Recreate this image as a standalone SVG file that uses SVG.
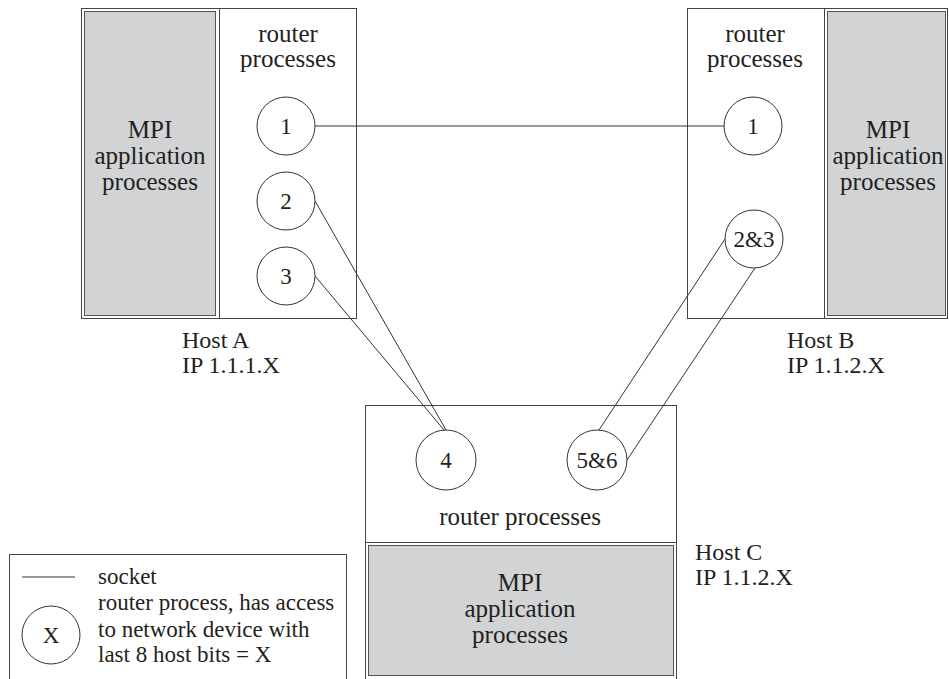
<svg xmlns="http://www.w3.org/2000/svg" width="949" height="679" viewBox="0 0 949 679">
  <style>
    text { font-family: "Liberation Serif", "Times New Roman", serif; fill: #231f20; }
    .lbl { font-size: 25px; text-anchor: middle; }
    .num { font-size: 23px; text-anchor: middle; }
    .host { font-size: 24px; }
    .leg { font-size: 23px; }
    .box { fill: #ffffff; stroke: #444444; stroke-width: 1; }
    .app { fill: #d2d3d5; stroke: #555555; stroke-width: 1; }
    .div { stroke: #444444; stroke-width: 1; }
    .proc { fill: #ffffff; stroke: #333333; stroke-width: 1; }
    .sock { stroke: #333333; stroke-width: 1; fill: none; }
  </style>

  <rect width="949" height="679" fill="#ffffff"/>

  <!-- Host A -->
  <g id="hostA">
    <rect class="box" x="81.5" y="8.5" width="275" height="310"/>
    <rect class="app" x="84.5" y="11.5" width="131" height="304"/>
    <line class="div" x1="219.5" y1="8.5" x2="219.5" y2="318.5"/>
    <text class="lbl" x="150" y="138">MPI</text>
    <text class="lbl" x="150" y="164">application</text>
    <text class="lbl" x="150" y="190">processes</text>
    <text class="lbl" x="288" y="42">router</text>
    <text class="lbl" x="288" y="67">processes</text>
    <text class="host" x="182" y="348">Host A</text>
    <text class="host" x="182" y="373">IP 1.1.1.X</text>
  </g>

  <!-- Host B -->
  <g id="hostB">
    <rect class="box" x="687.5" y="8.5" width="260" height="310"/>
    <rect class="app" x="827.5" y="11.5" width="118" height="304"/>
    <line class="div" x1="824.5" y1="8.5" x2="824.5" y2="318.5"/>
    <text class="lbl" x="888" y="138">MPI</text>
    <text class="lbl" x="888" y="164">application</text>
    <text class="lbl" x="888" y="190">processes</text>
    <text class="lbl" x="755" y="42">router</text>
    <text class="lbl" x="755" y="67">processes</text>
    <text class="host" x="787" y="348">Host B</text>
    <text class="host" x="787" y="373">IP 1.1.2.X</text>
  </g>

  <!-- Host C -->
  <g id="hostC">
    <rect class="box" x="365.5" y="405.5" width="311" height="280"/>
    <line class="div" x1="365.5" y1="542.5" x2="676.5" y2="542.5"/>
    <rect class="app" x="368.5" y="545.5" width="305" height="130"/>
    <text class="lbl" x="520" y="525">router processes</text>
    <text class="lbl" x="520" y="591">MPI</text>
    <text class="lbl" x="520" y="617">application</text>
    <text class="lbl" x="520" y="643">processes</text>
    <text class="host" x="695" y="560">Host C</text>
    <text class="host" x="695" y="585">IP 1.1.2.X</text>
  </g>

  <!-- sockets between router processes -->
  <g id="connectors">
    <line class="sock" x1="315" y1="126" x2="724" y2="126"/>
    <line class="sock" x1="315" y1="201" x2="446" y2="430"/>
    <line class="sock" x1="315" y1="276" x2="444" y2="430"/>
    <line class="sock" x1="725" y1="239" x2="599" y2="430"/>
    <line class="sock" x1="755" y1="268" x2="627" y2="460"/>
  </g>

  <!-- router processes -->
  <g id="rA1"><circle class="proc" cx="286" cy="126" r="29"/><text class="num" x="286" y="134">1</text></g>
  <g id="rA2"><circle class="proc" cx="286" cy="201" r="29"/><text class="num" x="286" y="209">2</text></g>
  <g id="rA3"><circle class="proc" cx="286" cy="276" r="29"/><text class="num" x="286" y="284">3</text></g>
  <g id="rB1"><circle class="proc" cx="753" cy="126" r="29"/><text class="num" x="753" y="134">1</text></g>
  <g id="rB23"><circle class="proc" cx="754" cy="239" r="29"/><text class="num" x="754" y="247">2&amp;3</text></g>
  <g id="rC4"><circle class="proc" cx="446" cy="460" r="30"/><text class="num" x="446" y="468">4</text></g>
  <g id="rC56"><circle class="proc" cx="597" cy="460" r="30"/><text class="num" x="597" y="468">5&amp;6</text></g>

  <!-- Legend -->
  <g id="legend">
    <rect class="box" x="9.5" y="554.5" width="337" height="140"/>
    <line class="sock" x1="22" y1="577" x2="75" y2="577"/>
    <circle class="proc" cx="51" cy="635" r="29"/>
    <text class="num" x="51" y="643">X</text>
    <text class="leg" x="98" y="584">socket</text>
    <text class="leg" x="98" y="610">router process, has access</text>
    <text class="leg" x="98" y="637">to network device with</text>
    <text class="leg" x="98" y="662">last 8 host bits = X</text>
  </g>
</svg>
